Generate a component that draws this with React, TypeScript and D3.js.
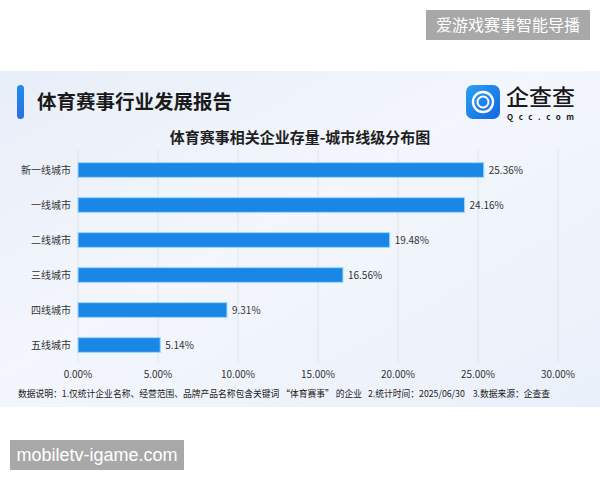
import React from "react";
import * as d3 from "d3";

const categories = ["新一线城市", "一线城市", "二线城市", "三线城市", "四线城市", "五线城市"];
const values = [25.36, 24.16, 19.48, 16.56, 9.31, 5.14];
const ticks = [0, 5, 10, 15, 20, 25, 30];
const title = "体育赛事行业发展报告";
const chartTitle = "体育赛事相关企业存量-城市线级分布图";
const footnote = "数据说明：1.仅统计企业名称、经营范围、品牌产品名称包含关键词 “体育赛事” 的企业\u00A0\u00A0\u00A02.统计时间：2025/06/30\u00A0\u00A0\u00A0\u00A03.数据来源：企查查";

const FONT = "'Noto Sans CJK SC', 'Noto Sans', sans-serif";

export default function App() {
  const W = 600, H = 480;
  const x = d3.scaleLinear().domain([0, 30]).range([78, 558]);
  const y = d3.scaleBand().domain(categories).range([152.5, 362.5]).paddingInner(0.58).paddingOuter(0.29);
  const bh = y.bandwidth();
  return (
    <svg width={W} height={H} style={{ position: "absolute", left: 0, top: 0, display: "block" }} fontFamily={FONT}>
      <defs>
        <linearGradient id="bg" x1="0" y1="0" x2="1" y2="1">
          <stop offset="0" stopColor="#e8eef8" />
          <stop offset="0.45" stopColor="#f3f6fc" />
          <stop offset="1" stopColor="#eaf0fa" />
        </linearGradient>
        <linearGradient id="acc" x1="0" y1="0" x2="0" y2="1">
          <stop offset="0" stopColor="#1e8cf0" />
          <stop offset="1" stopColor="#2b6fe0" />
        </linearGradient>
        <linearGradient id="logo" x1="0" y1="0" x2="1" y2="1">
          <stop offset="0" stopColor="#2aa0f5" />
          <stop offset="1" stopColor="#1466e0" />
        </linearGradient>
      </defs>
      <rect width={W} height={H} fill="#ffffff" />
      {/* top watermark */}
      <rect x={426} y={10} width={164} height={30} fill="#a8a8a8" />
      <text x={508} y={31} textAnchor="middle" fontSize={16} fill="#ffffff">爱游戏赛事智能导播</text>
      {/* panel */}
      <rect x={0} y={71} width={600} height={336} fill="url(#bg)" />
      <rect x={17} y={85} width={7} height={34} rx={3.5} fill="url(#acc)" />
      <text x={37} y={109} fontSize={19.5} fontWeight={700} fill="#1a1a1a">{title}</text>
      {/* logo */}
      <rect x={466} y={85} width={34} height={34} rx={7} fill="url(#logo)" />
      <circle cx={483} cy={102} r={10} fill="none" stroke="#ffffff" strokeWidth={2.4} />
      <circle cx={483} cy={102} r={5.5} fill="none" stroke="#ffffff" strokeWidth={2} />
      <text x={506} y={105} fontSize={22} fill="#1a1a1a" fontWeight={500} textLength={69} lengthAdjust="spacingAndGlyphs">企查查</text>
      <text x={507} y={120} fontSize={8} fill="#1a1a1a" fontWeight={600} textLength={67} lengthAdjust="spacing">Qcc.com</text>
      {/* chart title */}
      <text x={300} y={143} textAnchor="middle" fontSize={15} fontWeight={700} fill="#1f1f1f">{chartTitle}</text>
      {/* grid */}
      {ticks.map((t) => (
        <line key={"g" + t} x1={x(t)} x2={x(t)} y1={150} y2={362} stroke="#dde2ea" strokeWidth={1} />
      ))}
      {ticks.map((t) => (
        <text key={"t" + t} x={x(t)} y={378} textAnchor="middle" fontSize={10} fill="#333">{t.toFixed(2) + "%"}</text>
      ))}
      {categories.map((c, i) => {
        const yy = y(c)!;
        return (
          <g key={c}>
            <text x={71} y={yy + bh / 2 + 3.5} textAnchor="end" fontSize={10} fill="#333">{c}</text>
            <rect x={x(0)} y={yy} width={x(values[i]) - x(0)} height={bh} fill="#1a87e6" stroke="#9cd6ff" strokeWidth={1} />
            <text x={x(values[i]) + 5} y={yy + bh / 2 + 3.5} fontSize={10} fill="#333">{values[i].toFixed(2) + "%"}</text>
          </g>
        );
      })}
      <text x={18} y={397} fontSize={9.5} fill="#222" textLength={532} lengthAdjust="spacingAndGlyphs">{footnote}</text>
      {/* bottom watermark */}
      <rect x={10} y={440} width={174} height={30} fill="#a8a8a8" />
      <text x={97} y={461} textAnchor="middle" fontSize={18} fill="#ffffff" fontFamily="'Liberation Sans', Arial, sans-serif">mobiletv-igame.com</text>
    </svg>
  );
}
